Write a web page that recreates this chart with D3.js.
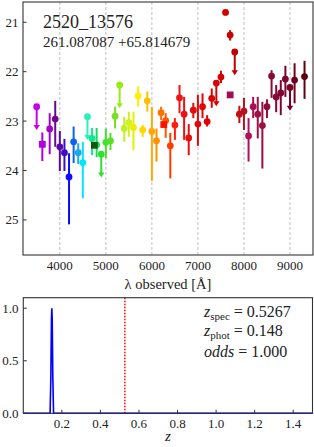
<!DOCTYPE html>
<html lang="en">
<head>
<meta charset="UTF-8">
<script src="https://cdn.jsdelivr.net/npm/d3@7"></script>
<title>2520_13576</title>
<style>
    body{ margin:0; background:#fff; }
    svg text{ fill:#222; }
</style>
</head>
<body>
<svg id="canvas" width="314" height="447" font-family="Liberation Serif, DejaVu Serif, serif"></svg>
<script>
// narrow band photometry (J-PAS filters)
let waves = [3497, 3780, 3900, 4000, 4100, 4200, 4300, 4400, 4500, 4600,
             4700, 4800, 4900, 5000, 5100, 5200, 5300, 5400, 5500, 5600,
             5700, 5800, 5900, 6000, 6100, 6200, 6300, 6400, 6500, 6600,
             6700, 6800, 6900, 7000, 7100, 7200, 7300, 7400, 7500, 7600,
             7700, 7800, 7900, 8000, 8100, 8200, 8300, 8400, 8500, 8600,
             8700, 8800, 8900, 9000, 9100, 9316]
let mags = [22.71, 23.16, 22.96, 23.52, 23.64, 24.13, 23.42, 23.64, 23.84, 22.91,
            23.35, 23.48, 23.67, 23.43, 23.40, 22.90, 22.27, 23.15, 23.03, 23.13,
            22.49, 23.18, 22.59, 23.21, 23.40, 22.83, 22.99, 23.50, 23.08, 22.53,
            22.86, 23.34, 22.78, 23.06, 22.71, 23.01, 22.54, 22.23, 22.11, 20.80,
            21.26, 21.60, 22.86, 22.80, 23.30, 22.71, 22.86, 23.09, 22.71, 22.09,
            22.51, 22.43, 22.15, 22.32, 22.17, 22.10]
let magBright = [null, 22.84, 22.59, 23.20, 23.36, 23.65, 23.11, 23.45, 23.42, null,
                 23.14, 23.14, null, 23.15, 23.24, 22.71, null, 22.91, 22.81, 22.81,
                 22.30, 23.08, 22.40, 22.71, 23.15, 22.71, 22.84, 23.24, 22.94, 22.27,
                 22.51, 23.06, 22.63, 22.47, 22.44, 22.88, 22.34, null, 21.98, 20.77,
                 21.16, null, 22.69, 22.53, 22.94, 22.51, 22.51, 22.61, 22.56, 21.97,
                 22.27, 22.17, 21.88, null, 21.83, 21.78]
let magFaint = [null, 23.67, 23.52, 24.01, 24.01, 25.09, 23.85, 23.87, 24.56, null,
                23.69, 23.73, null, 23.75, 23.59, 23.15, null, 23.42, 23.32, 23.59,
                22.71, 23.32, 22.81, 24.21, 23.82, 22.98, 23.34, 24.16, 23.38, 22.84,
                23.38, 23.69, 22.94, 23.50, 22.94, 23.11, 22.73, null, 22.23, 20.83,
                21.37, null, 23.04, 23.18, 23.82, 22.94, 23.35, 23.96, 22.94, 22.53,
                22.82, 22.88, 22.51, null, 22.64, 22.55]
// null errors = upper limit
// broad bands u, g, r, i
let bbWaves = [3620, 4751, 6258, 7700]
let bbMags = [23.47, 23.49, 23.07, 22.47]
let bbBright = [23.23, 23.45, 23.04, 22.44]
let bbFaint = [23.81, 23.53, 23.10, 22.50]

// redshift pdf
let zGrid = [0, 0.139, 0.143, 0.146, 0.148, 0.150, 0.153, 0.157, 1.5]
let pz = [0, 0, 0.35, 0.9, 1.0, 0.9, 0.35, 0, 0]
let zSpec = 0.5267
let zPhot = 0.148
let odds = 1.000

let waveTicks = [4000, 5000, 6000, 7000, 8000, 9000]
let magTicks = [21, 22, 23, 24, 25]
let zTicks = [0.2, 0.4, 0.6, 0.8, 1.0, 1.2, 1.4]
let pTicks = [0.0, 0.5, 1.0]

let arrowLen = 0.45

let color = d3.scaleLinear()
    .domain([3497, 3780, 3900, 4000, 4100, 4200, 4300, 4400, 4500, 4600, 4700, 4800, 4900,
             5100, 5200, 5300, 5400, 5500, 5600, 5700, 5800, 5900, 6000, 6100, 6200, 6300,
             6400, 6500, 6600, 7000, 7600, 7800, 7900, 8000, 8100, 8300, 8600, 9000, 9316])
    .range(['#c800e8', '#a000d0', '#6a0a8a', '#5a08a8', '#3a10c0', '#0a0aff', '#0a64f0',
            '#18a8f0', '#00e6ff', '#28f0c0', '#10e890', '#10e060', '#30e030',
            '#58e028', '#78e020', '#98ec10', '#c0f020', '#d4f020', '#e4f000', '#fcf000',
            '#ffd800', '#ffc000', '#ffa800', '#ff9000', '#ff7000', '#ff5800',
            '#ff3c00', '#ff2010', '#f01414', '#e00808', '#d00000', '#c00000', '#c01010',
            '#b81020', '#b0105a', '#a01048', '#8a0838', '#780028', '#600010'])
let bbColors = ['#b000e0', '#0a5a0a', '#ff1000', '#a01050']

let canvas = d3.select('#canvas')

// ---------- top panel ----------
let x = d3.scaleLinear().domain([3200, 9500]).range([23, 313])
let y = d3.scaleLinear().domain([20.59, 25.71]).range([2, 255])

let sedPanel = canvas.append('g')

sedPanel.selectAll('.grid')
    .data(waveTicks)
    .enter()
    .append('line')
    .attr('x1', d => x(d)).attr('x2', d => x(d))
    .attr('y1', y.range()[0]).attr('y2', y.range()[1])
    .attr('stroke', '#b0b0b0')
    .attr('stroke-width', 0.8)
    .attr('stroke-dasharray', '3,2')

let pts = waves.map((w, i) => ({w: w, m: mags[i], lo: magBright[i], hi: magFaint[i]}))

pts.forEach(p => {
    let c = color(p.w)
    if(p.lo === null){
        let yEnd = y(p.m + arrowLen)
        sedPanel.append('line')
            .attr('x1', x(p.w)).attr('x2', x(p.w))
            .attr('y1', y(p.m)).attr('y2', yEnd - 2)
            .attr('stroke', c).attr('stroke-width', 2)
        sedPanel.append('path')
            .attr('d', `M${x(p.w) - 3.2},${yEnd - 4} L${x(p.w) + 3.2},${yEnd - 4} L${x(p.w)},${yEnd + 1} Z`)
            .attr('fill', c)
    }else{
        sedPanel.append('line')
            .attr('x1', x(p.w)).attr('x2', x(p.w))
            .attr('y1', y(p.lo)).attr('y2', y(p.hi))
            .attr('stroke', c).attr('stroke-width', 2)
    }
    sedPanel.append('circle')
        .attr('cx', x(p.w)).attr('cy', y(p.m))
        .attr('r', 3.4)
        .attr('fill', c)
})

bbWaves.forEach((w, i) => {
    sedPanel.append('line')
        .attr('x1', x(w)).attr('x2', x(w))
        .attr('y1', y(bbBright[i])).attr('y2', y(bbFaint[i]))
        .attr('stroke', bbColors[i]).attr('stroke-width', 2)
    sedPanel.append('rect')
        .attr('x', x(w) - 3.4).attr('y', y(bbMags[i]) - 3.4)
        .attr('width', 6.8).attr('height', 6.8)
        .attr('fill', bbColors[i])
})

// frame and ticks
sedPanel.append('rect')
    .attr('x', 23).attr('y', 2).attr('width', 290).attr('height', 253)
    .attr('fill', 'none').attr('stroke', '#333').attr('stroke-width', 1.1)

sedPanel.selectAll('.ytick')
    .data(magTicks)
    .enter()
    .append('line')
    .attr('x1', 23).attr('x2', 26.5)
    .attr('y1', d => y(d)).attr('y2', d => y(d))
    .attr('stroke', '#333')

sedPanel.selectAll('.ylab')
    .data(magTicks)
    .enter()
    .append('text')
    .attr('x', 18.5).attr('y', d => y(d) + 4.5)
    .attr('text-anchor', 'end')
    .attr('font-size', 13)
    .text(d => d)

sedPanel.selectAll('.xlab')
    .data(waveTicks)
    .enter()
    .append('text')
    .attr('x', d => x(d)).attr('y', 269.5)
    .attr('text-anchor', 'middle')
    .attr('font-size', 13)
    .text(d => d)

sedPanel.append('text')
    .attr('x', 168).attr('y', 289)
    .attr('text-anchor', 'middle')
    .attr('font-size', 14.5)
    .text('λ observed [Å]')

sedPanel.append('text')
    .attr('x', 43).attr('y', 28)
    .attr('font-size', 18)
    .text('2520_13576')

sedPanel.append('text')
    .attr('x', 43).attr('y', 47)
    .attr('font-size', 15)
    .text('261.087087 +65.814679')

// ---------- bottom panel ----------
let zx = d3.scaleLinear().domain([0, 1.5]).range([23.3, 312.5])
let py = d3.scaleLinear().domain([0, 1.1]).range([413.3, 297.7])

let pdfPanel = canvas.append('g')

pdfPanel.append('line')
    .attr('x1', zx(zSpec)).attr('x2', zx(zSpec))
    .attr('y1', py.range()[0]).attr('y2', py.range()[1])
    .attr('stroke', '#ff0000')
    .attr('stroke-width', 1.5)
    .attr('stroke-dasharray', '1.5,1.5')

let pdfLine = d3.line()
    .x((d, i) => zx(zGrid[i]))
    .y(d => py(d))

pdfPanel.append('path')
    .attr('d', pdfLine(pz))
    .attr('fill', 'none')
    .attr('stroke', '#0000ff')
    .attr('stroke-width', 1.6)

pdfPanel.append('rect')
    .attr('x', 23.3).attr('y', 297.7).attr('width', 289.2).attr('height', 115.6)
    .attr('fill', 'none').attr('stroke', '#333').attr('stroke-width', 1.1)

pdfPanel.selectAll('.ztick')
    .data(zTicks)
    .enter()
    .append('line')
    .attr('x1', d => zx(d)).attr('x2', d => zx(d))
    .attr('y1', 413.3).attr('y2', 409.8)
    .attr('stroke', '#333')

pdfPanel.selectAll('.ptick')
    .data(pTicks)
    .enter()
    .append('line')
    .attr('x1', 23.3).attr('x2', 26.8)
    .attr('y1', d => py(d)).attr('y2', d => py(d))
    .attr('stroke', '#333')

pdfPanel.selectAll('.zlab')
    .data(zTicks)
    .enter()
    .append('text')
    .attr('x', d => zx(d)).attr('y', 427.5)
    .attr('text-anchor', 'middle')
    .attr('font-size', 13)
    .text(d => d.toFixed(1))

pdfPanel.selectAll('.plab')
    .data(pTicks)
    .enter()
    .append('text')
    .attr('x', 18.5).attr('y', d => py(d) + 4.5)
    .attr('text-anchor', 'end')
    .attr('font-size', 13)
    .text(d => d.toFixed(1))

pdfPanel.append('text')
    .attr('x', 168).attr('y', 441)
    .attr('text-anchor', 'middle')
    .attr('font-size', 15)
    .attr('font-style', 'italic')
    .text('z')

let info = [
    {sym: 'z', sub: 'spec', val: zSpec.toFixed(4), y: 316.5},
    {sym: 'z', sub: 'phot', val: zPhot.toFixed(3), y: 336},
    {sym: 'odds', sub: '', val: odds.toFixed(3), y: 357}
]
info.forEach(d => {
    let t = pdfPanel.append('text')
        .attr('x', 204).attr('y', d.y)
        .attr('font-size', 16)
    t.append('tspan').attr('font-style', 'italic').text(d.sym)
    if(d.sub){
        t.append('tspan').attr('font-size', 11).attr('dy', 3).text(d.sub)
        t.append('tspan').attr('dy', -3).text(' = ' + d.val)
    }else{
        t.append('tspan').text(' = ' + d.val)
    }
})
</script>
</body>
</html>
